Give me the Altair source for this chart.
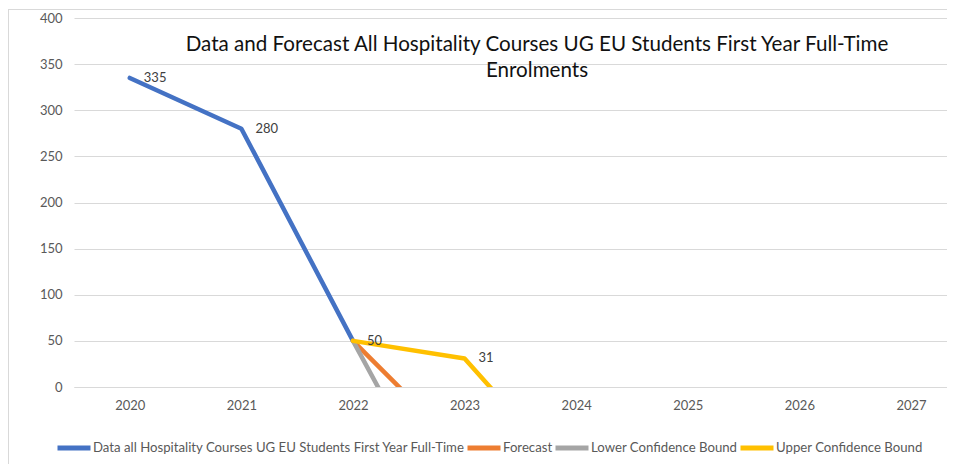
import altair as alt
import pandas as pd

# ---- data ----
years = [2020, 2021, 2022, 2023, 2024, 2025, 2026, 2027]
y_ticks = [0, 50, 100, 150, 200, 250, 300, 350, 400]

series_names = [
    "Data all Hospitality Courses UG EU Students First Year Full-Time",
    "Forecast",
    "Lower Confidence Bound",
    "Upper Confidence Bound",
]
series_colors = ["#4472C4", "#ED7D31", "#A5A5A5", "#FFC000"]

data_years = [2020, 2021, 2022]
data_values = [335, 280, 50]
forecast_years = [2022, 2023]
forecast_values = [50, -71]
lower_years = [2022, 2023]
lower_values = [50, -173]
upper_years = [2022, 2023, 2024]
upper_values = [50, 31, -105]

title_lines = [
    "Data and Forecast All Hospitality Courses UG EU Students First Year Full-Time",
    "Enrolments",
]

FONT = "Lato"

# ---- tables ----
rows = []
for name, ys, vs in zip(
    series_names,
    [data_years, forecast_years, lower_years, upper_years],
    [data_values, forecast_values, lower_values, upper_values],
):
    for y, v in zip(ys, vs):
        rows.append({"year": y, "value": v, "series": name})
df = pd.DataFrame(rows)

label_df = pd.DataFrame(
    {
        "year": data_years + [upper_years[1]],
        "value": data_values + [upper_values[1]],
    }
)

x_scale = alt.Scale(domain=[2019.5, 2027.323], nice=False, zero=False)
y_scale = alt.Scale(domain=[0, 400], nice=False)

x_enc = alt.X(
    "year:Q",
    scale=x_scale,
    axis=alt.Axis(
        values=years,
        format="d",
        grid=False,
        domain=True,
        domainColor="#d9d9d9",
        ticks=False,
        tickSize=0,
        labelPadding=12,
        labelFont=FONT,
        labelFontSize=13,
        labelColor="#595959",
        title=None,
    ),
)
y_enc = alt.Y(
    "value:Q",
    scale=y_scale,
    axis=alt.Axis(
        values=y_ticks,
        grid=True,
        gridColor="#d9d9d9",
        domain=False,
        ticks=False,
        tickSize=0,
        labelPadding=12,
        labelFont=FONT,
        labelFontSize=13,
        labelColor="#595959",
        title=None,
    ),
)

lines = (
    alt.Chart(df)
    .mark_line(strokeWidth=4.5, clip=True, strokeCap="round", strokeJoin="round")
    .encode(
        x=x_enc,
        y=y_enc,
        color=alt.Color(
            "series:N",
            scale=alt.Scale(domain=series_names, range=series_colors),
            legend=alt.Legend(
                orient="none",
                legendX=-19,
                legendY=411,
                direction="horizontal",
                title=None,
                symbolType="stroke",
                symbolSize=1089,
                symbolStrokeWidth=5,
                labelOffset=0,
                columnPadding=-9,
                labelLimit=600,
                labelFont=FONT,
                labelFontSize=13.2,
                labelColor="#595959",
            ),
        ),
        detail="series:N",
    )
)

labels = (
    alt.Chart(label_df)
    .mark_text(align="left", baseline="middle", dx=14, fontSize=13, font=FONT, color="#404040")
    .encode(x=alt.X("year:Q", scale=x_scale), y=alt.Y("value:Q", scale=y_scale), text=alt.Text("value:Q"))
)

title = (
    alt.Chart(pd.DataFrame({"t": ["\n".join(title_lines)]}))
    .mark_text(
        align="center",
        baseline="alphabetic",
        lineBreak="\n",
        lineHeight=26,
        fontSize=20.6,
        font=FONT,
        color="#111111",
    )
    .encode(x=alt.value(463), y=alt.value(33), text="t:N")
)

border_top = alt.Chart(pd.DataFrame({"a": [0]})).mark_rule(color="#d9d9d9", strokeWidth=1).encode(
    x=alt.value(-66), x2=alt.value(873), y=alt.value(-8.5)
)
border_left = alt.Chart(pd.DataFrame({"a": [0]})).mark_rule(color="#d9d9d9", strokeWidth=1).encode(
    x=alt.value(-65.5), y=alt.value(-9), y2=alt.value(450)
)

chart = (
    alt.layer(border_top, border_left, lines, labels, title)
    .properties(
        width=873,
        height=369,
        autosize=alt.AutoSizeParams(type="none"),
        padding={"left": 66, "top": 10, "right": 0, "bottom": 77},
        background="white",
    )
    .configure_view(stroke=None)
)

chart.save("out.html", embed_options={"renderer": "svg", "actions": False})
